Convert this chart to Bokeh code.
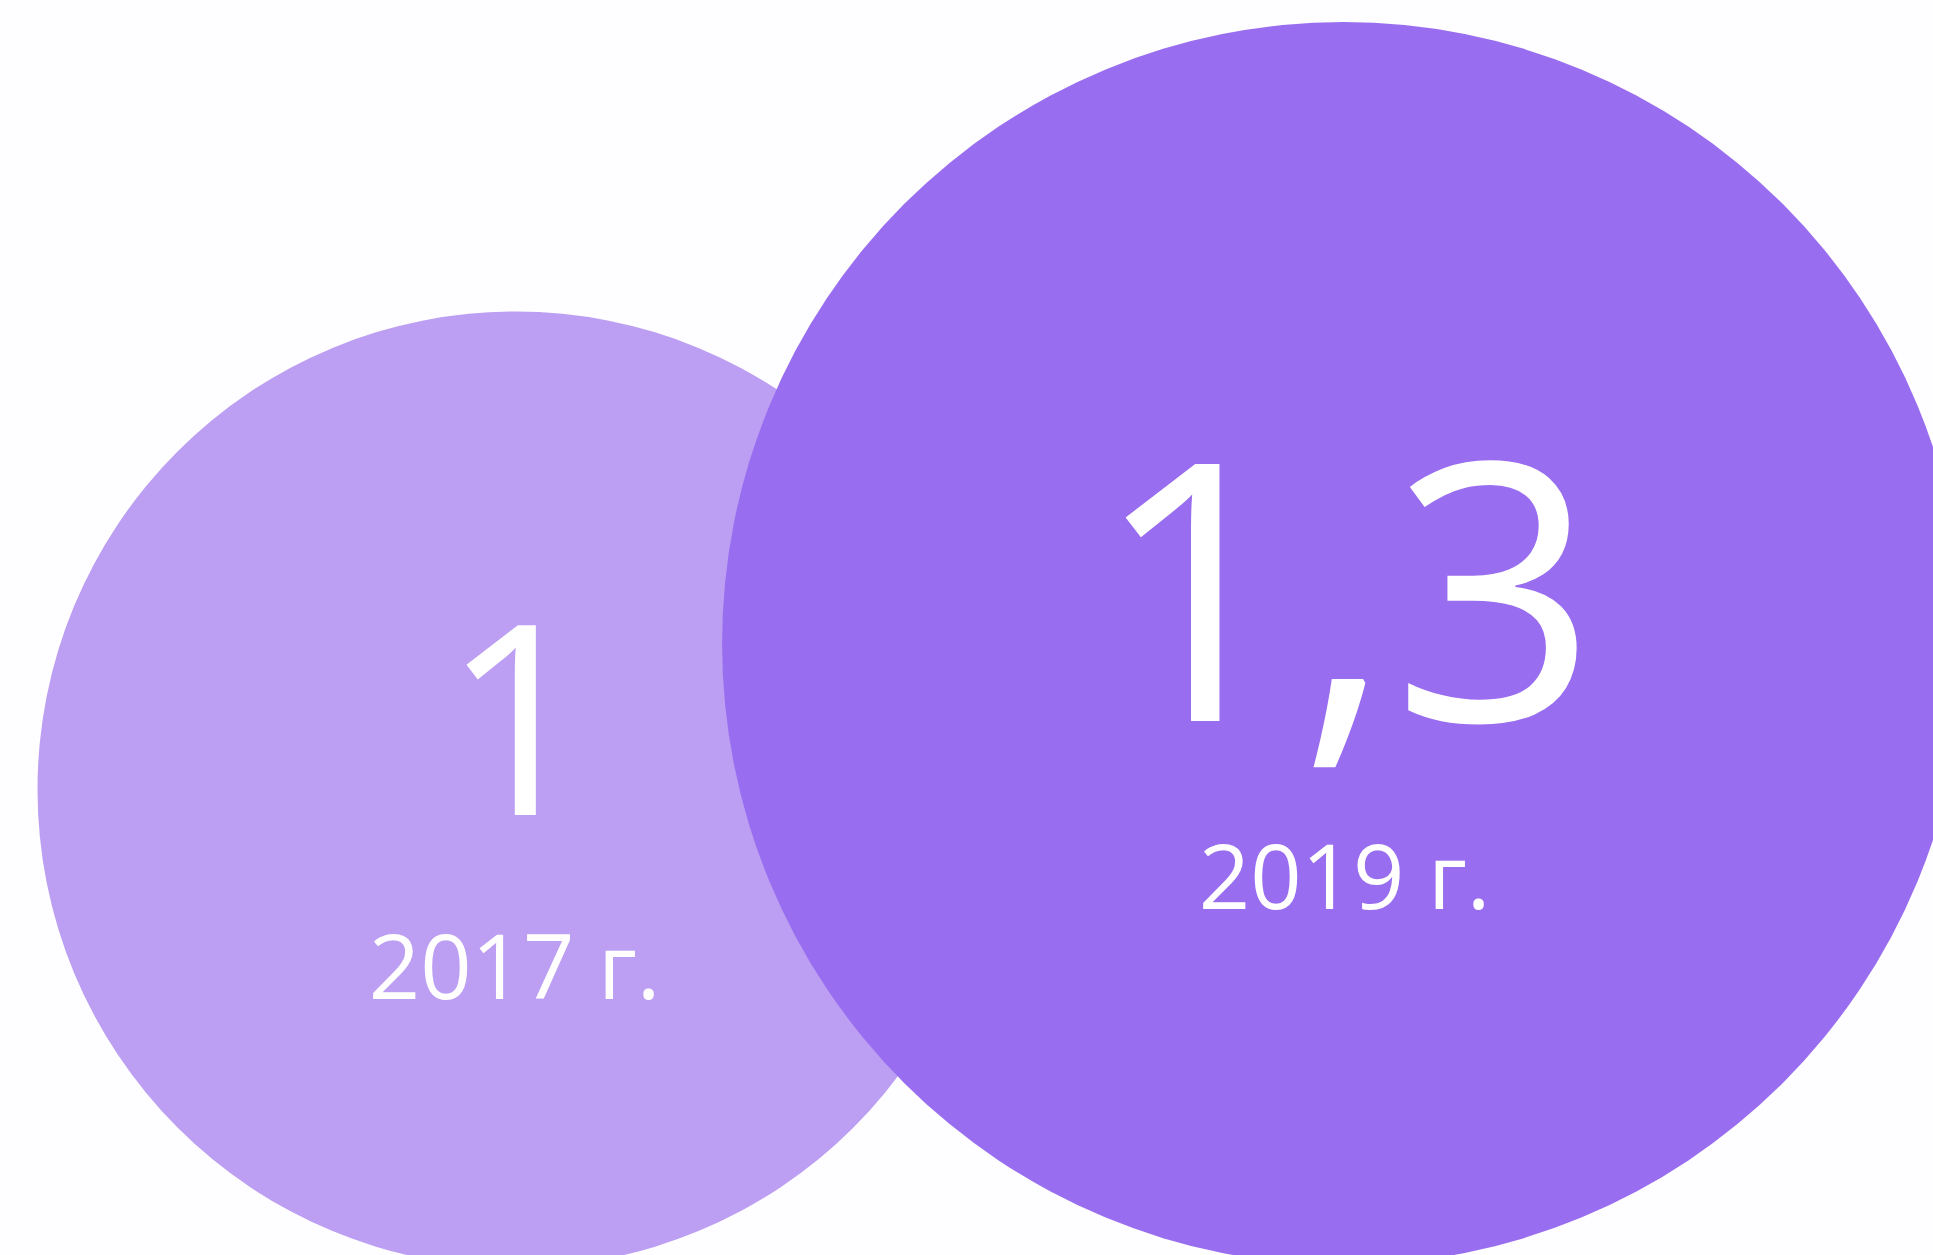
from bokeh.plotting import figure
from bokeh.models import Range1d, ColumnDataSource
from bokeh.core.properties import value
from bokeh.embed import file_html
from bokeh.resources import INLINE

# ---- data ----
years = ["2017 г.", "2019 г."]
values = [1.0, 1.3]
value_labels = ["1", "1,3"]

# ---- layout (pixels) ----
W, H = 1933, 1255
unit_radius = 478          # radius for value 1
centers_x = [515, 1343]
centers_y = [789, 643]
colors = ["#BC9EF2", "#996DEF"]
num_sizes = ["266px", "360px"]
num_dx = [3, 2]
num_dy = [-70, -52]
lab_dx = [-1, 1]
lab_dy = [174, 230]

radii = [v * unit_radius for v in values]

src = ColumnDataSource(dict(
    x=centers_x, y=centers_y, r=radii, color=colors,
    num=value_labels, year=years,
    nx=[cx + d for cx, d in zip(centers_x, num_dx)],
    ny=[cy + d for cy, d in zip(centers_y, num_dy)],
    lx=[cx + d for cx, d in zip(centers_x, lab_dx)],
    ly=[cy + d for cy, d in zip(centers_y, lab_dy)],
    nsize=num_sizes,
))

p = figure(width=W, height=H, output_backend="svg", toolbar_location=None,
           x_range=Range1d(0, W), y_range=Range1d(H, 0),
           min_border=0)
p.axis.visible = False
p.grid.visible = False
p.outline_line_color = None
p.background_fill_color = "#FEFDFF"
p.border_fill_color = "#FEFDFF"

p.circle(x="x", y="y", radius="r", fill_color="color", line_color=None, source=src)

p.text(x="nx", y="ny", text="num", source=src, text_color="white",
       text_font=value("Open Sans"), text_font_size="nsize",
       text_align="center", text_baseline="alphabetic")
p.text(x="lx", y="ly", text="year", source=src, text_color="white",
       text_font=value("Open Sans"), text_font_size="90px",
       text_align="center", text_baseline="alphabetic")

open("out.html", "w").write(file_html(p, INLINE))
